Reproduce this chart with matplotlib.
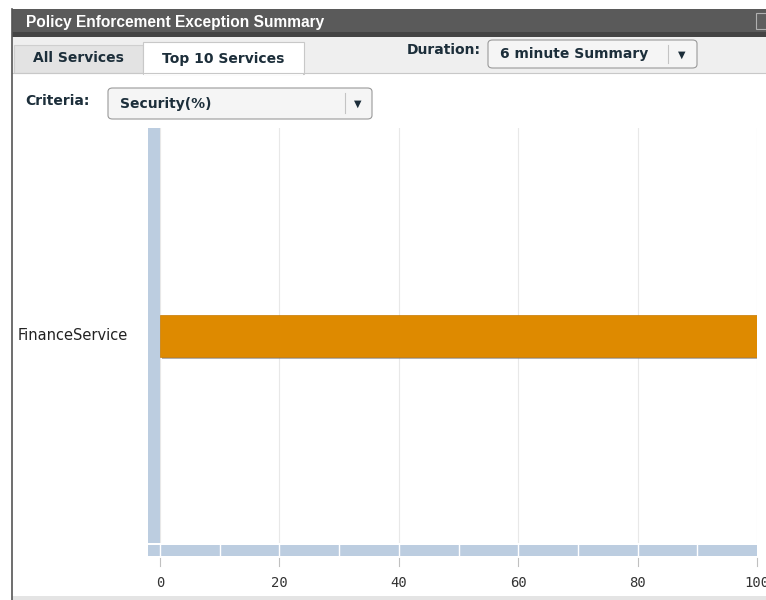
import numpy as np
import matplotlib.pyplot as plt
from matplotlib.patches import Rectangle, FancyBboxPatch

# data
services = ["FinanceService"]
values = [100]
xticks = [0, 20, 40, 60, 80, 100]

W, H = 766, 600
TXT = "#1c2e3a"
fig = plt.figure(figsize=(W / 100, H / 100), dpi=100)
fig.patch.set_facecolor("white")


def fx(px):
    return px / W


def fy(py):
    return 1 - py / H


def box(x0, y0, x1, y1, **kw):
    fig.add_artist(Rectangle((fx(x0), fy(y1)), fx(x1 - x0), (y1 - y0) / H,
                             transform=fig.transFigure, **kw))


def rbox(x0, y0, x1, y1, **kw):
    fig.add_artist(FancyBboxPatch((fx(x0), fy(y1)), fx(x1 - x0), (y1 - y0) / H,
                                  boxstyle="round,pad=0,rounding_size=0.006",
                                  transform=fig.transFigure, **kw))


def vline(x, y0, y1, **kw):
    fig.add_artist(plt.Line2D([fx(x), fx(x)], [fy(y0), fy(y1)],
                              transform=fig.transFigure, **kw))


def hline(x0, x1, y, **kw):
    fig.add_artist(plt.Line2D([fx(x0), fx(x1)], [fy(y), fy(y)],
                              transform=fig.transFigure, **kw))


# title bar
box(12, 9, W, 32, facecolor="#5a5a5a", edgecolor="none")
box(12, 32, W, 37, facecolor="#444444", edgecolor="none")
fig.text(fx(26), fy(22), "Policy Enforcement Exception Summary", color="white",
         fontsize=11.2, fontweight="bold", va="center", family="Liberation Sans")
box(756, 13, 768, 29, facecolor="#5e5e5e", edgecolor="#b0b0b0", lw=0.8)

# tab row
box(12, 37, W, 73, facecolor="#efefef", edgecolor="none")
hline(12, W, 73, color="#c8c8c8", lw=0.8)
box(14, 45, 143, 73, facecolor="#e3e3e3", edgecolor="#cfcfcf", lw=0.8)
fig.text(fx(78), fy(58), "All Services", fontsize=10, fontweight="bold",
         color=TXT, ha="center", va="center", family="DejaVu Sans")
box(143, 42, 304, 74, facecolor="white", edgecolor="#c8c8c8", lw=0.8)
box(143.6, 72, 303.4, 75, facecolor="white", edgecolor="none")
fig.text(fx(223), fy(59), "Top 10 Services", fontsize=10, fontweight="bold",
         color=TXT, ha="center", va="center", family="DejaVu Sans")

fig.text(fx(407), fy(50), "Duration:", fontsize=10, fontweight="bold",
         color=TXT, ha="left", va="center", family="DejaVu Sans")
rbox(488, 40, 697, 68, facecolor="#f5f5f5", edgecolor="#9a9a9a", lw=0.8)
fig.text(fx(500), fy(54), "6 minute Summary", fontsize=10, fontweight="bold",
         color=TXT, ha="left", va="center", family="DejaVu Sans")
vline(668, 45, 63, color="#c4c4c4", lw=0.8)
fig.text(fx(682), fy(55), "\u25bc", fontsize=7, color=TXT, ha="center",
         va="center", family="DejaVu Sans")

# criteria
fig.text(fx(25), fy(101), "Criteria:", fontsize=10, fontweight="bold",
         color=TXT, ha="left", va="center", family="DejaVu Sans")
rbox(108, 88, 372, 119, facecolor="#f5f5f5", edgecolor="#9a9a9a", lw=0.8)
fig.text(fx(120), fy(104), "Security(%)", fontsize=10, fontweight="bold",
         color=TXT, ha="left", va="center", family="DejaVu Sans")
vline(345, 93, 113, color="#c4c4c4", lw=0.8)
fig.text(fx(358), fy(104), "\u25bc", fontsize=7, color=TXT, ha="center",
         va="center", family="DejaVu Sans")

# panel left border and bottom
vline(12, 9, 600, color="#555555", lw=1.2)
box(12, 596, W, 600, facecolor="#e4e4e4", edgecolor="none")

# chart axes
ax = fig.add_axes([fx(160), fy(543), fx(757 - 160), (543 - 128) / H])
ax.set_xlim(0, 100)
ax.set_ylim(-0.5, 0.5)
for s in ax.spines.values():
    s.set_visible(False)
ax.set_xticks(xticks)
ax.set_yticks([])
ax.tick_params(axis="x", length=0, labelbottom=False)
ax.grid(axis="x", color="#e8e8e8", lw=0.8)
ax.set_axisbelow(True)

ypos = np.arange(len(services))
bar_h = 42 / 415
ax.barh(ypos - 0.006, values, height=bar_h, left=0.4, color="#7a7a7a", alpha=0.6, zorder=2)
ax.barh(ypos, values, height=bar_h, color="#de8a00", edgecolor="#c67800", lw=0.5, zorder=3)

for i, name in enumerate(services):
    fig.text(fx(18), fy(335), name, fontsize=10.5, color="#222222", ha="left",
             va="center", family="DejaVu Sans")

# axis bars
bar_col = "#bccde0"
box(148, 128, 160, 543, facecolor=bar_col, edgecolor="none")
box(148, 545, 757, 556, facecolor=bar_col, edgecolor="none")
for v in np.arange(0, 101, 10)[:-1]:
    xp = 160 + v / 100 * (757 - 160)
    vline(xp, 545, 556, color="white", lw=1)
for v in xticks:
    xp = 160 + v / 100 * (757 - 160)
    vline(xp, 558, 566, color="#c0c0c0", lw=0.8)
    fig.text(fx(xp), fy(583), str(v), fontsize=10, color="#333333", ha="center",
             va="center", family="DejaVu Sans Mono")

fig.savefig("out.png", dpi=100)
